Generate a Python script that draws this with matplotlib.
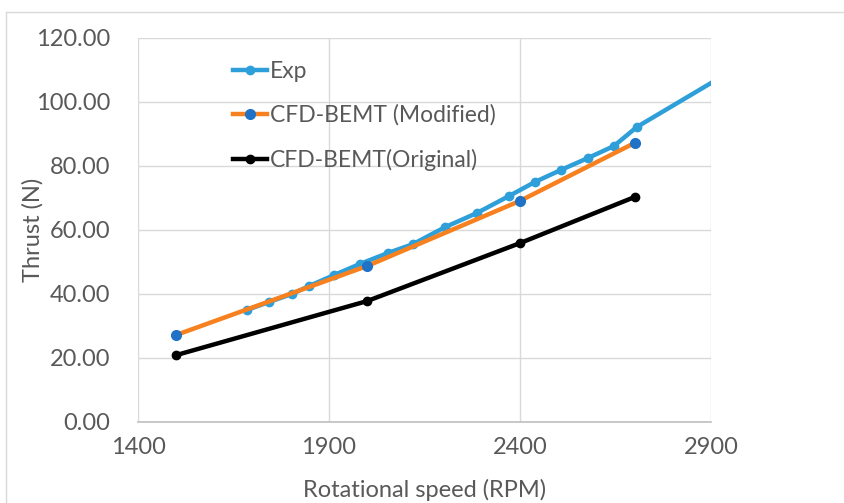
import matplotlib
matplotlib.use("Agg")
import matplotlib.pyplot as plt
from matplotlib.lines import Line2D

# Data
exp_rpm = [1685, 1743, 1803, 1848, 1913, 1981, 2054, 2120, 2204, 2287, 2371, 2439,
           2507, 2578, 2646, 2706, 3000]
exp_thrust = [35.0, 37.5, 40.0, 42.5, 45.9, 49.4, 52.8, 55.6, 60.9, 65.3, 70.6, 75.0,
              78.75, 82.5, 86.25, 92.2, 113.0]
mod_rpm = [1500, 2000, 2400, 2700]
mod_thrust = [27.2, 48.75, 69.1, 87.2]
orig_rpm = [1500, 2000, 2400, 2700]
orig_thrust = [20.9, 37.8, 55.9, 70.3]
x_ticks = [1400, 1900, 2400, 2900]
y_ticks = [0, 20, 40, 60, 80, 100, 120]

plt.rcParams['font.family'] = ['Lato', 'DejaVu Sans']
txt = '#595959'

fig = plt.figure(figsize=(8.45, 5.03), dpi=100)
W, H = 845, 503
x0, y0 = 6.5 / W, 1 - 11.5 / H
fig.add_artist(Line2D([x0, x0], [0, y0], transform=fig.transFigure,
                      color='#D9D9D9', lw=1.0))
fig.add_artist(Line2D([x0, 1], [y0, y0], transform=fig.transFigure,
                      color='#D9D9D9', lw=1.0))
ax = fig.add_axes([138 / W, 1 - 422 / H, (711 - 138) / W, (422 - 38) / H])

n_exp = len(exp_rpm)
ax.plot(exp_rpm, exp_thrust, color='#2E9FD9', lw=3.2, marker='o', ms=6,
        markevery=list(range(n_exp - 1)), label='Exp', zorder=3)
ax.plot(mod_rpm, mod_thrust, color='#F7811F', lw=3.2, marker='o', ms=7,
        mfc='#1F72C6', mec='#1F72C6', label='CFD-BEMT (Modified)', zorder=4)
ax.plot(orig_rpm, orig_thrust, color='black', lw=3.2, marker='o', ms=6,
        label='CFD-BEMT(Original)', zorder=5)

ax.set_xlim(1400, 2900)
ax.set_ylim(0, 120)
ax.set_xticks(x_ticks)
ax.set_yticks(y_ticks)
ax.set_yticklabels([f'{v:.2f}' for v in y_ticks])
ax.grid(True, color='#D9D9D9', lw=1)
ax.set_axisbelow(True)
for s in ['top', 'right', 'left']:
    ax.spines[s].set_visible(False)
ax.spines['bottom'].set_color('#BFBFBF')
ax.spines['bottom'].set_linewidth(1.2)
ax.tick_params(axis='both', length=0, labelsize=17, colors=txt)
ax.tick_params(axis='y', pad=20)
ax.tick_params(axis='x', pad=11)

ax.set_xlabel('Rotational speed (RPM)', fontsize=17, color=txt, labelpad=15)
ax.set_ylabel('Thrust (N)', fontsize=17, color=txt)
ax.yaxis.set_label_coords(-0.165, 0.5)

leg = ax.legend(loc='upper left', bbox_to_anchor=(0.13, 0.995), frameon=False,
                fontsize=16.5, labelcolor=txt, handlelength=1.5, handletextpad=0.1,
                labelspacing=1.0)

fig.savefig('out.png', dpi=100)
